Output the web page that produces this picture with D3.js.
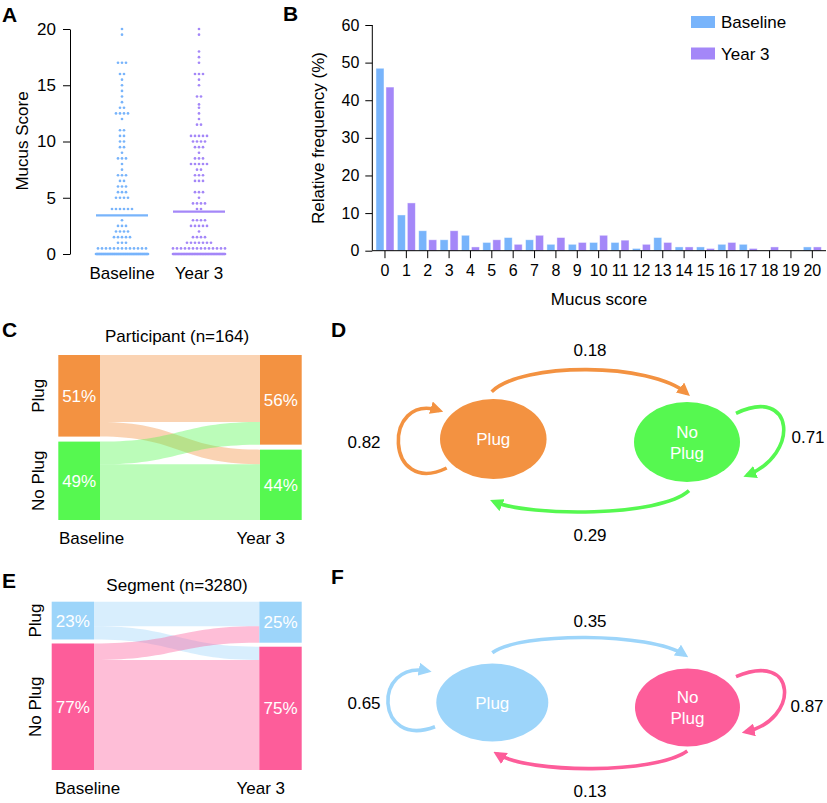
<!DOCTYPE html>
<html><head><meta charset="utf-8">
<script src="https://cdn.jsdelivr.net/npm/d3@7"></script>
<style>
body{margin:0;background:#fff}
text{font-family:"Liberation Sans",Arial,Helvetica,sans-serif;fill:#000}
</style>
</head><body>
<svg id="c" width="827" height="803"></svg>
<script>
// ---------------- DATA ----------------
const groups = ["Baseline", "Year 3"];
// Panel A: [mucus score, number of participants at that score]
const baselineDots = [[20,1],[19.5,1],[17,3],[16,2],[15.5,1],[15,1],[14.5,1],[14,1],[13.5,1],[13,2],[12.5,4],[12,1],[11,2],[10.5,2],[10,2],[9.5,2],[9,1],[8.5,3],[8,1],[7.5,1],[7,3],[6.5,2],[6,3],[5.5,3],[5,4],[4,6],[3,1],[2.5,3],[2,4],[1.5,5],[1,3],[0.5,13],[0,81]];
const year3Dots = [[20,1],[19.5,1],[18,1],[17.5,1],[17,1],[16,3],[15.5,1],[15,1],[14,2],[13.3,1],[13,1],[12.5,1],[12,1],[11.5,2],[10.5,5],[10,4],[9.5,3],[9,1],[8.5,3],[8,5],[7.5,2],[7,3],[6.5,3],[5.5,3],[5,1],[4.5,4],[4,2],[3,4],[2.5,5],[2,1],[1.5,4],[1,7],[0.5,14],[0,72]];
const yTicksA = [0, 5, 10, 15, 20];
// Panel B
const scoreCategories = [0,1,2,3,4,5,6,7,8,9,10,11,12,13,14,15,16,17,18,19,20];
const baselineFreq = [48.5,9.5,5.3,2.9,4.1,2.2,3.5,2.9,1.7,1.7,2.2,2.2,0.6,3.5,1.0,1.0,1.7,1.7,0,0,1.0];
const year3Freq    = [43.5,12.7,2.9,5.3,1.0,2.9,1.7,4.1,3.5,2.2,4.1,2.8,1.7,2.2,1.0,0.6,2.2,0.6,1.0,0,1.0];
const yTicksB = [0, 10, 20, 30, 40, 50, 60];
// Panels C-F
const states = ["Plug", "No Plug"];
const participantBaseline = [51, 49];
const participantTrans = [[0.82, 0.18], [0.29, 0.71]];
const segmentBaseline = [23, 77];
const segmentTrans = [[0.65, 0.35], [0.13, 0.87]];

// ---------------- STYLE ----------------
const colA = ["#78b4fb", "#a487f8"];
const colCD = ["#f39241", "#56f850"];
const colEF = ["#9dd5fa", "#fd5d9a"];
const FS = 17;

const svg = d3.select("#c");

function letter(t, x, y) {
  svg.append("text").attr("x", x).attr("y", y).attr("font-size", 21).attr("font-weight", "bold").text(t);
}
letter("A", 2, 22); letter("B", 283, 21); letter("C", 2, 337); letter("D", 331, 337); letter("E", 2, 588); letter("F", 331, 584);

function styleAxis(g) {
  g.selectAll("path,line").attr("stroke", "#000").attr("stroke-width", 1);
  g.selectAll("text").attr("font-size", 16).attr("fill", "#000")
    .style("font-family", '"Liberation Sans",Arial,sans-serif');
}

// ---------------- PANEL A ----------------
{
  const g = svg.append("g");
  const y = d3.scaleLinear().domain([0, 20]).range([254, 29]);
  const x = d3.scalePoint().domain(groups).range([122, 199]);
  const ax = g.append("g").attr("transform", "translate(70,0)")
    .call(d3.axisLeft(y).tickValues(yTicksA).tickSize(7).tickPadding(7).tickSizeOuter(0));
  styleAxis(ax);
  ax.selectAll("text").attr("font-size", 17);
  g.append("text").attr("transform", "translate(28,141) rotate(-90)").attr("text-anchor", "middle")
    .attr("font-size", FS).text("Mucus Score");
  [baselineDots, year3Dots].forEach((rows, gi) => {
    const cx = x(groups[gi]);
    const half = 26;
    rows.forEach(([v, n]) => {
      const sp = Math.min(4, (2 * half) / Math.max(n - 1, 1));
      for (let i = 0; i < n; i++) {
        g.append("circle").attr("cx", cx + (i - (n - 1) / 2) * sp).attr("cy", y(v))
          .attr("r", 1.35).attr("fill", colA[gi]);
      }
    });
    const tot = d3.sum(rows, d => d[1]);
    const mean = d3.sum(rows, d => d[0] * d[1]) / tot;
    g.append("line").attr("x1", cx - half).attr("x2", cx + half).attr("y1", y(mean)).attr("y2", y(mean))
      .attr("stroke", colA[gi]).attr("stroke-width", 2.2);
    g.append("text").attr("x", cx).attr("y", 279).attr("text-anchor", "middle").attr("font-size", FS).text(groups[gi]);
  });
}

// ---------------- PANEL B ----------------
{
  const g = svg.append("g");
  const x = d3.scaleBand().domain(scoreCategories).range([374.3, 823]).padding(0);
  const sub = d3.scaleBand().domain(groups).range([-9, 9]).paddingInner(0.2);
  const y = d3.scaleLinear().domain([0, 60]).range([250.7, 25]);
  const ay = g.append("g").attr("transform", "translate(372.3,0)")
    .call(d3.axisLeft(y).tickValues(yTicksB).tickSize(7).tickPadding(6).tickSizeOuter(0));
  styleAxis(ay);
  ay.select(".domain").attr("d", `M0,${y(60)}V${y(0)}`);
  const series = [baselineFreq, year3Freq];
  series.forEach((vals, si) => {
    g.append("g").selectAll("rect").data(scoreCategories).join("rect")
      .attr("x", d => x(d) + x.bandwidth() / 2 + sub(groups[si]))
      .attr("width", sub.bandwidth())
      .attr("y", (d, i) => y(vals[i]))
      .attr("height", (d, i) => y(0) - y(vals[i]))
      .attr("fill", colA[si]).attr("stroke", "rgba(255,255,255,0.55)").attr("stroke-width", 0.8);
  });
  const axb = g.append("g").attr("transform", `translate(0,${y(0)})`)
    .call(d3.axisBottom(x).tickSize(7.5).tickPadding(6).tickSizeOuter(0));
  styleAxis(axb);
  axb.select(".domain").attr("d", "M372.3,0H826");
  g.append("text").attr("transform", "translate(324,138) rotate(-90)").attr("text-anchor", "middle")
    .attr("font-size", FS).text("Relative frequency (%)");
  g.append("text").attr("x", 599).attr("y", 305).attr("text-anchor", "middle").attr("font-size", FS).text("Mucus score");
  groups.forEach((gname, i) => {
    g.append("rect").attr("x", 691).attr("y", 16 + i * 31.5).attr("width", 24).attr("height", 12).attr("fill", colA[i]);
    g.append("text").attr("x", 721).attr("y", 28 + i * 31.5).attr("font-size", FS).text(gname);
  });
}

// ---------------- SANKEY (C, E) ----------------
function sankey(base, trans, colors, L, title) {
  const g = svg.append("g");
  const year3 = [0, 1].map(j => d3.sum(base, (b, i) => b * trans[i][j]));
  const k = (L.bottom - L.top - L.gap) / 100;
  const yL = [L.top, L.top + base[0] * k + L.gap];
  const yR = [L.top, L.top + year3[0] * k + L.gap];
  const offL = yL.slice(), offR = yR.slice();
  const flows = [];
  for (let i = 0; i < 2; i++) for (let j = 0; j < 2; j++) {
    const h = base[i] * trans[i][j] * k;
    flows.push({ i, j, y0: offL[i], y1: offR[j], h });
    offL[i] += h; offR[j] += h;
  }
  const xa = L.lx1, xb = L.rx0, xm = (xa + xb) / 2;
  flows.forEach(f => {
    const p = d3.path();
    p.moveTo(xa, f.y0);
    p.bezierCurveTo(xm, f.y0, xm, f.y1, xb, f.y1);
    p.lineTo(xb, f.y1 + f.h);
    p.bezierCurveTo(xm, f.y1 + f.h, xm, f.y0 + f.h, xa, f.y0 + f.h);
    p.closePath();
    g.append("path").attr("d", p.toString()).attr("fill", colors[f.i]).attr("fill-opacity", 0.4);
  });
  const fmt = v => d3.format(".0f")(v) + "%";
  [[base, yL, L.lx0, L.lx1], [year3, yR, L.rx0, L.rx1]].forEach(([vals, ys, x0, x1]) => {
    vals.forEach((v, i) => {
      g.append("rect").attr("x", x0).attr("y", ys[i]).attr("width", x1 - x0).attr("height", v * k).attr("fill", colors[i]);
      g.append("text").attr("x", (x0 + x1) / 2).attr("y", ys[i] + v * k / 2).attr("dy", "0.36em")
        .attr("text-anchor", "middle").attr("font-size", FS).style("fill", "#fff").text(fmt(v));
    });
  });
  states.forEach((s, i) => {
    const cy = yL[i] + base[i] * k / 2;
    g.append("text").attr("transform", `translate(${L.labX},${cy}) rotate(-90)`).attr("text-anchor", "middle")
      .attr("font-size", FS).text(s);
  });
  g.append("text").attr("x", L.baseX).attr("y", L.labY).attr("font-size", FS).text(groups[0]);
  g.append("text").attr("x", 285).attr("y", L.labY).attr("text-anchor", "end").attr("font-size", FS).text(groups[1]);
  g.append("text").attr("x", 177).attr("y", L.titleY).attr("text-anchor", "middle").attr("font-size", FS).text(title);
}
sankey(participantBaseline, participantTrans, colCD,
  { lx0: 58.3, lx1: 100, rx0: 260, rx1: 301.7, top: 355, bottom: 520, gap: 5, labX: 44, labY: 544, baseX: 59, titleY: 342 },
  "Participant (n=164)");
sankey(segmentBaseline, segmentTrans, colEF,
  { lx0: 51.7, lx1: 94, rx0: 259.3, rx1: 301.7, top: 601.7, bottom: 770, gap: 4, labX: 41, labY: 794, baseX: 55, titleY: 591 },
  "Segment (n=3280)");

// ---------------- MARKOV (D, F) ----------------
function markov(trans, colors, L) {
  const g = svg.append("g");
  const defs = svg.append("defs");
  colors.forEach((c, i) => {
    defs.append("marker").attr("id", L.id + i).attr("viewBox", "0 -5 10 10").attr("refX", 7).attr("refY", 0)
      .attr("markerUnits", "userSpaceOnUse").attr("markerWidth", 13).attr("markerHeight", 13).attr("orient", "auto")
      .append("path").attr("d", "M0,-5L10,0L0,5Z").attr("fill", c);
  });
  L.arrows.forEach(a => {
    const [p0, c1, c2, tip] = a.pts;
    const dx = tip[0] - c2[0], dy = tip[1] - c2[1], len = Math.hypot(dx, dy);
    const end = [tip[0] - 4 * dx / len, tip[1] - 4 * dy / len];
    const p = d3.path();
    p.moveTo(...p0); p.bezierCurveTo(...c1, ...c2, ...end);
    g.append("path").attr("d", p.toString()).attr("fill", "none").attr("stroke", colors[a.from])
      .attr("stroke-width", 3.6).attr("marker-end", `url(#${L.id}${a.from})`);
    g.append("text").attr("x", a.lab[0]).attr("y", a.lab[1]).attr("dy", "0.36em").attr("text-anchor", "middle")
      .attr("font-size", FS).text(d3.format(".2f")(trans[a.from][a.to]));
  });
  L.nodes.forEach((n, i) => {
    g.append("ellipse").attr("cx", n.cx).attr("cy", n.cy).attr("rx", n.rx).attr("ry", n.ry).attr("fill", colors[i]);
    const words = states[i].split(" ");
    words.forEach((w, wi) => {
      g.append("text").attr("x", n.cx).attr("y", n.cy + (wi - (words.length - 1) / 2) * 21).attr("dy", "0.36em")
        .attr("text-anchor", "middle").attr("font-size", FS).style("fill", "#fff").text(w);
    });
  });
}
markov(participantTrans, colCD, {
  id: "mD",
  nodes: [{ cx: 493.3, cy: 439, rx: 53.3, ry: 40 }, { cx: 687, cy: 442, rx: 53, ry: 40 }],
  arrows: [
    { from: 0, to: 1, pts: [[491.7, 391.7], [522, 362], [650, 362], [690, 396]], lab: [590, 350] },
    { from: 1, to: 0, pts: [[689, 490.7], [660, 517], [530, 517], [490, 500]], lab: [590, 535] },
    { from: 0, to: 0, pts: [[446.7, 468], [385, 498], [382, 392], [443.3, 411.7]], lab: [364, 442] },
    { from: 1, to: 1, pts: [[736, 413.3], [795, 385], [800, 455], [743.3, 476.7]], lab: [808, 437] }
  ]
});
markov(segmentTrans, colEF, {
  id: "mF",
  nodes: [{ cx: 492.3, cy: 702.5, rx: 56, ry: 39 }, { cx: 687.5, cy: 707.5, rx: 52.5, ry: 39 }],
  arrows: [
    { from: 0, to: 1, pts: [[492.3, 652.7], [520, 632], [650, 632], [688.3, 657.3]], lab: [590, 621] },
    { from: 1, to: 0, pts: [[687.3, 751], [655, 774], [530, 774], [493.3, 751.7]], lab: [590, 791] },
    { from: 0, to: 0, pts: [[435, 726.7], [375, 750], [372, 660], [431.7, 671.7]], lab: [364, 703] },
    { from: 1, to: 1, pts: [[736, 676.7], [798, 650], [800, 720], [741.7, 732.7]], lab: [807, 706] }
  ]
});
</script>
</body></html>
